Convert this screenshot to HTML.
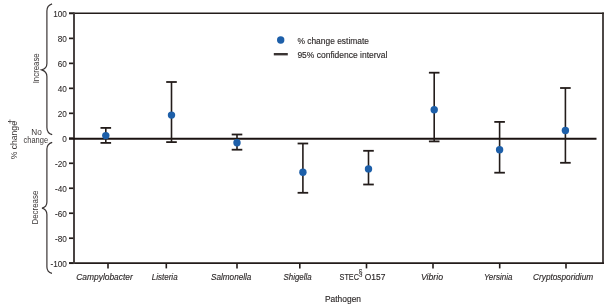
<!DOCTYPE html>
<html><head><meta charset="utf-8"><style>
html,body{margin:0;padding:0;background:#fff;width:615px;height:305px;overflow:hidden}
svg{display:block;will-change:transform}
text{font-family:"Liberation Sans",sans-serif;fill:#2e2a2a;stroke:#2e2a2a;stroke-width:0.15px}
.yt{font-size:8.2px;text-anchor:end;stroke-width:0.08px}
.cat{font-size:8.6px;font-style:italic}
.catn{font-size:8.6px}
.sup{font-size:6px}
.ttl{font-size:8.6px}
.leg{font-size:9.3px}
.side{font-size:8.6px;stroke:none;fill:#3a3636}
.side2{font-size:8.6px;stroke:none;fill:#3a3636}
.nc{font-size:8.2px;stroke:none;fill:#3a3636}
</style></head><body>
<svg width="615" height="305" viewBox="0 0 615 305">
<line x1="69" y1="13.40" x2="74" y2="13.40" stroke="#231c1a" stroke-width="1.7"/>
<text x="66.8" y="17.10" class="yt">100</text>
<line x1="69" y1="38.38" x2="74" y2="38.38" stroke="#231c1a" stroke-width="1.7"/>
<text x="66.8" y="42.08" class="yt">80</text>
<line x1="69" y1="63.36" x2="74" y2="63.36" stroke="#231c1a" stroke-width="1.7"/>
<text x="66.8" y="67.06" class="yt">60</text>
<line x1="69" y1="88.34" x2="74" y2="88.34" stroke="#231c1a" stroke-width="1.7"/>
<text x="66.8" y="92.04" class="yt">40</text>
<line x1="69" y1="113.32" x2="74" y2="113.32" stroke="#231c1a" stroke-width="1.7"/>
<text x="66.8" y="117.02" class="yt">20</text>
<line x1="69" y1="138.30" x2="74" y2="138.30" stroke="#231c1a" stroke-width="1.7"/>
<text x="66.8" y="142.00" class="yt">0</text>
<line x1="69" y1="163.28" x2="74" y2="163.28" stroke="#231c1a" stroke-width="1.7"/>
<text x="66.8" y="166.98" class="yt">-20</text>
<line x1="69" y1="188.26" x2="74" y2="188.26" stroke="#231c1a" stroke-width="1.7"/>
<text x="66.8" y="191.96" class="yt">-40</text>
<line x1="69" y1="213.24" x2="74" y2="213.24" stroke="#231c1a" stroke-width="1.7"/>
<text x="66.8" y="216.94" class="yt">-60</text>
<line x1="69" y1="238.22" x2="74" y2="238.22" stroke="#231c1a" stroke-width="1.7"/>
<text x="66.8" y="241.92" class="yt">-80</text>
<line x1="69" y1="263.20" x2="74" y2="263.20" stroke="#231c1a" stroke-width="1.7"/>
<text x="66.8" y="266.90" class="yt">-100</text>
<line x1="69" y1="13.3" x2="603.9" y2="13.3" stroke="#231c1a" stroke-width="1.4"/>
<line x1="603" y1="12.6" x2="603" y2="264" stroke="#2f2826" stroke-width="1.7"/>
<line x1="69" y1="263.2" x2="603.9" y2="263.2" stroke="#231c1a" stroke-width="1.7"/>
<line x1="74" y1="12.6" x2="74" y2="264" stroke="#403a39" stroke-width="1.9"/>
<line x1="69" y1="138.8" x2="596.5" y2="138.8" stroke="#1a1210" stroke-width="2.0"/>
<line x1="108" y1="263" x2="108" y2="268.4" stroke="#231c1a" stroke-width="1.6"/>
<line x1="166.3" y1="263" x2="166.3" y2="268.4" stroke="#231c1a" stroke-width="1.6"/>
<line x1="237" y1="263" x2="237" y2="268.4" stroke="#231c1a" stroke-width="1.6"/>
<line x1="299.8" y1="263" x2="299.8" y2="268.4" stroke="#231c1a" stroke-width="1.6"/>
<line x1="366.5" y1="263" x2="366.5" y2="268.4" stroke="#231c1a" stroke-width="1.6"/>
<line x1="433" y1="263" x2="433" y2="268.4" stroke="#231c1a" stroke-width="1.6"/>
<line x1="499.7" y1="263" x2="499.7" y2="268.4" stroke="#231c1a" stroke-width="1.6"/>
<line x1="566" y1="263" x2="566" y2="268.4" stroke="#231c1a" stroke-width="1.6"/>
<line x1="105.8" y1="127.9" x2="105.8" y2="142.9" stroke="#231c1a" stroke-width="1.6"/>
<line x1="100.5" y1="127.9" x2="111.1" y2="127.9" stroke="#231c1a" stroke-width="1.8"/>
<line x1="100.5" y1="142.9" x2="111.1" y2="142.9" stroke="#231c1a" stroke-width="1.8"/>
<circle cx="105.8" cy="135.6" r="3.7" fill="#1d5fa9"/>
<line x1="171.5" y1="82.0" x2="171.5" y2="142.1" stroke="#231c1a" stroke-width="1.6"/>
<line x1="166.2" y1="82.0" x2="176.8" y2="82.0" stroke="#231c1a" stroke-width="1.8"/>
<line x1="166.2" y1="142.1" x2="176.8" y2="142.1" stroke="#231c1a" stroke-width="1.8"/>
<circle cx="171.5" cy="115.1" r="3.7" fill="#1d5fa9"/>
<line x1="237.0" y1="134.5" x2="237.0" y2="149.7" stroke="#231c1a" stroke-width="1.6"/>
<line x1="231.7" y1="134.5" x2="242.3" y2="134.5" stroke="#231c1a" stroke-width="1.8"/>
<line x1="231.7" y1="149.7" x2="242.3" y2="149.7" stroke="#231c1a" stroke-width="1.8"/>
<circle cx="237.0" cy="142.8" r="3.7" fill="#1d5fa9"/>
<line x1="302.9" y1="143.5" x2="302.9" y2="192.8" stroke="#231c1a" stroke-width="1.6"/>
<line x1="297.6" y1="143.5" x2="308.2" y2="143.5" stroke="#231c1a" stroke-width="1.8"/>
<line x1="297.6" y1="192.8" x2="308.2" y2="192.8" stroke="#231c1a" stroke-width="1.8"/>
<circle cx="302.9" cy="172.3" r="3.7" fill="#1d5fa9"/>
<line x1="368.5" y1="150.8" x2="368.5" y2="184.5" stroke="#231c1a" stroke-width="1.6"/>
<line x1="363.2" y1="150.8" x2="373.8" y2="150.8" stroke="#231c1a" stroke-width="1.8"/>
<line x1="363.2" y1="184.5" x2="373.8" y2="184.5" stroke="#231c1a" stroke-width="1.8"/>
<circle cx="368.5" cy="168.9" r="3.7" fill="#1d5fa9"/>
<line x1="434.2" y1="72.7" x2="434.2" y2="141.4" stroke="#231c1a" stroke-width="1.6"/>
<line x1="428.9" y1="72.7" x2="439.5" y2="72.7" stroke="#231c1a" stroke-width="1.8"/>
<line x1="428.9" y1="141.4" x2="439.5" y2="141.4" stroke="#231c1a" stroke-width="1.8"/>
<circle cx="434.2" cy="109.7" r="3.7" fill="#1d5fa9"/>
<line x1="499.6" y1="121.9" x2="499.6" y2="172.7" stroke="#231c1a" stroke-width="1.6"/>
<line x1="494.3" y1="121.9" x2="504.9" y2="121.9" stroke="#231c1a" stroke-width="1.8"/>
<line x1="494.3" y1="172.7" x2="504.9" y2="172.7" stroke="#231c1a" stroke-width="1.8"/>
<circle cx="499.6" cy="149.7" r="3.7" fill="#1d5fa9"/>
<line x1="565.4" y1="88.0" x2="565.4" y2="162.8" stroke="#231c1a" stroke-width="1.6"/>
<line x1="560.1" y1="88.0" x2="570.7" y2="88.0" stroke="#231c1a" stroke-width="1.8"/>
<line x1="560.1" y1="162.8" x2="570.7" y2="162.8" stroke="#231c1a" stroke-width="1.8"/>
<circle cx="565.4" cy="130.5" r="3.7" fill="#1d5fa9"/>
<text x="76.3" y="279.8" class="cat" textLength="56.5" lengthAdjust="spacingAndGlyphs">Campylobacter</text>
<text x="151.8" y="279.8" class="cat" textLength="25.8" lengthAdjust="spacingAndGlyphs">Listeria</text>
<text x="211" y="279.8" class="cat" textLength="40.4" lengthAdjust="spacingAndGlyphs">Salmonella</text>
<text x="283.5" y="279.8" class="cat" textLength="28.1" lengthAdjust="spacingAndGlyphs">Shigella</text>
<text x="420.9" y="279.8" class="cat" textLength="22.2" lengthAdjust="spacingAndGlyphs">Vibrio</text>
<text x="483.9" y="279.8" class="cat" textLength="28.5" lengthAdjust="spacingAndGlyphs">Yersinia</text>
<text x="533.1" y="279.8" class="cat" textLength="60.0" lengthAdjust="spacingAndGlyphs">Cryptosporidium</text>
<text x="339.5" y="279.8" class="catn" textLength="19.5" lengthAdjust="spacingAndGlyphs">STEC</text>
<text transform="translate(358.8,275.5) scale(0.8,1)" class="sup" style="font-size:8.4px">§</text>
<text x="364.8" y="279.8" class="catn" textLength="20.6" lengthAdjust="spacingAndGlyphs">O157</text>
<text x="325" y="301.5" class="ttl" textLength="36" lengthAdjust="spacingAndGlyphs">Pathogen</text>
<circle cx="280.7" cy="40.0" r="3.7" fill="#1d5fa9"/>
<line x1="273.8" y1="54.2" x2="287.8" y2="54.2" stroke="#3a3433" stroke-width="2.4"/>
<text x="297.4" y="43.8" class="leg" textLength="71.6" lengthAdjust="spacingAndGlyphs">% change estimate</text>
<text x="297.4" y="57.6" class="leg" textLength="90" lengthAdjust="spacingAndGlyphs">95% confidence interval</text>
<path d="M52.1,3.9 Q46.9,5.5 46.9,11 L46.9,63.5 Q46.9,68.5 41.6,69.9 Q46.9,71.5 46.9,76.5 L46.9,127.5 Q46.9,133.2 52.2,134.6" fill="none" stroke="#3a3535" stroke-width="1.2"/>
<path d="M52.2,142.3 Q46.9,143.8 46.9,149 L46.9,202 Q46.9,207 42,208.2 Q46.9,209.5 46.9,214.5 L46.9,267 Q46.9,272 52,273.3" fill="none" stroke="#3a3535" stroke-width="1.2"/>
<text transform="translate(39.4,68.3) rotate(-90)" class="side" text-anchor="middle" textLength="30" lengthAdjust="spacingAndGlyphs">Increase</text>
<text transform="translate(38.4,207.6) rotate(-90)" class="side" text-anchor="middle" textLength="34" lengthAdjust="spacingAndGlyphs">Decrease</text>
<text x="36.6" y="134.9" class="nc" text-anchor="middle">No</text>
<text x="35.8" y="143.2" class="nc" text-anchor="middle" textLength="24.5" lengthAdjust="spacingAndGlyphs">change</text>
<text transform="translate(16.9,159.3) rotate(-90)" class="side2">% change<tspan dx="-2.9" dy="-2.4" font-size="9.2">†</tspan></text>
</svg>
</body></html>
